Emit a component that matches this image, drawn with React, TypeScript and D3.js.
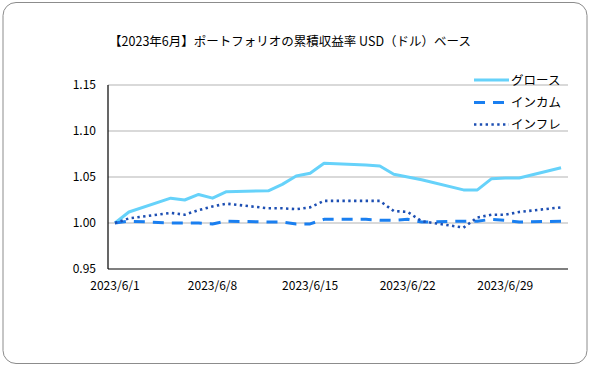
import React, { useMemo } from 'react';
import * as d3 from 'd3';

// business days shown in the chart
const dates = [
  '2023-06-01', '2023-06-02', '2023-06-05', '2023-06-06', '2023-06-07', '2023-06-08', '2023-06-09',
  '2023-06-12', '2023-06-13', '2023-06-14', '2023-06-15', '2023-06-16', '2023-06-19', '2023-06-20',
  '2023-06-21', '2023-06-22', '2023-06-23', '2023-06-26', '2023-06-27', '2023-06-28', '2023-06-29',
  '2023-06-30', '2023-07-03',
];

const growth = [
  1.000, 1.012, 1.027, 1.025, 1.031, 1.027, 1.034,
  1.035, 1.042, 1.051, 1.054, 1.065, 1.063, 1.062,
  1.053, 1.050, 1.047, 1.036, 1.036, 1.048, 1.049,
  1.049, 1.060,
];

const income = [
  1.000, 1.002, 1.000, 1.000, 1.000, 0.999, 1.002,
  1.001, 1.001, 0.999, 0.999, 1.004, 1.004, 1.003,
  1.003, 1.004, 1.001, 1.002, 1.002, 1.004, 1.003,
  1.001, 1.002,
];

const inflation = [
  1.000, 1.005, 1.011, 1.009, 1.014, 1.018, 1.021,
  1.016, 1.016, 1.015, 1.017, 1.024, 1.024, 1.024,
  1.013, 1.012, 1.002, 0.995, 1.006, 1.009, 1.009,
  1.012, 1.017,
];

const yTicks = [0.95, 1.0, 1.05, 1.1, 1.15];
const xTickDates = ['2023-06-01', '2023-06-08', '2023-06-15', '2023-06-22', '2023-06-29'];

const series = [
  { name: 'グロース', values: growth, color: '#66d2fa', width: 3, dash: null as string | null, cap: 'butt' },
  { name: 'インカム', values: income, color: '#1a7ff0', width: 3, dash: '11,8', cap: 'butt' },
  { name: 'インフレ', values: inflation, color: '#1d4fb3', width: 2.6, dash: '2.4,3.4', cap: 'butt' },
];

const W = 591;
const H = 368;
const font = '"Noto Sans CJK JP", "Noto Sans", sans-serif';

const parse = d3.timeParse('%Y-%m-%d');

export default function App() {
  const margin = { top: 85, right: 23, bottom: 99, left: 108 };
  const x0 = margin.left;
  const x1 = W - margin.right;
  const y0 = H - margin.bottom;
  const y1 = margin.top;

  const { xScale, yScale } = useMemo(() => {
    const first = parse(dates[0])!;
    const last = parse(dates[dates.length - 1])!;
    const xScale = d3.scaleTime()
      .domain([d3.timeHour.offset(first, -12), d3.timeHour.offset(last, 12)])
      .range([x0, x1]);
    const yScale = d3.scaleLinear().domain([0.95, 1.15]).range([y0, y1]);
    return { xScale, yScale };
  }, []);

  const line = d3.line<number>()
    .x((_, i) => xScale(parse(dates[i])!))
    .y(d => yScale(d));

  const legendY = [80, 102.5, 124.5];

  return (
    <svg width={W} height={H} style={{ position: 'absolute', left: 0, top: 0 }} fontFamily={font}>
      <rect x={3} y={2.5} width={584} height={361} rx={13} fill="#fff" stroke="#8c8c8c" strokeWidth={1} />

      <text x={290} y={46} textAnchor="middle" fontSize={12.5} fill="#000">
        【2023年6月】ポートフォリオの累積収益率 USD（ドル）ベース
      </text>

      {yTicks.map(t => (
        <g key={t}>
          {t > 0.95 && (
            <line x1={x0} x2={x1} y1={yScale(t)} y2={yScale(t)} stroke="#b3b3b3" strokeWidth={1} />
          )}
          <text x={96} y={yScale(t)} dy="0.35em" textAnchor="end" fontSize={12} fill="#000">
            {t.toFixed(2)}
          </text>
        </g>
      ))}

      {xTickDates.map(d => (
        <text key={d} x={xScale(parse(d)!)} y={290} textAnchor="middle" fontSize={12} fill="#000">
          {d3.timeFormat('%Y/%-m/%-d')(parse(d)!)}
        </text>
      ))}

      {series.map(s => (
        <path
          key={s.name}
          d={line(s.values) ?? ''}
          fill="none"
          stroke={s.color}
          strokeWidth={s.width}
          strokeDasharray={s.dash ?? undefined}
          strokeLinejoin="round"
          strokeLinecap={s.cap as any}
        />
      ))}

      <line x1={x0} x2={x0} y1={y1} y2={y0} stroke="#000" strokeWidth={1.2} />
      <line x1={x0} x2={x1} y1={y0} y2={y0} stroke="#000" strokeWidth={1.2} />

      {series.map((s, i) => (
        <g key={s.name}>
          <line
            x1={474}
            x2={509}
            y1={legendY[i]}
            y2={legendY[i]}
            stroke={s.color}
            strokeWidth={s.width}
            strokeDasharray={s.dash ?? undefined}
          />
          <text x={511} y={legendY[i]} dy="0.36em" fontSize={12.5} fill="#000">
            {s.name}
          </text>
        </g>
      ))}
    </svg>
  );
}
